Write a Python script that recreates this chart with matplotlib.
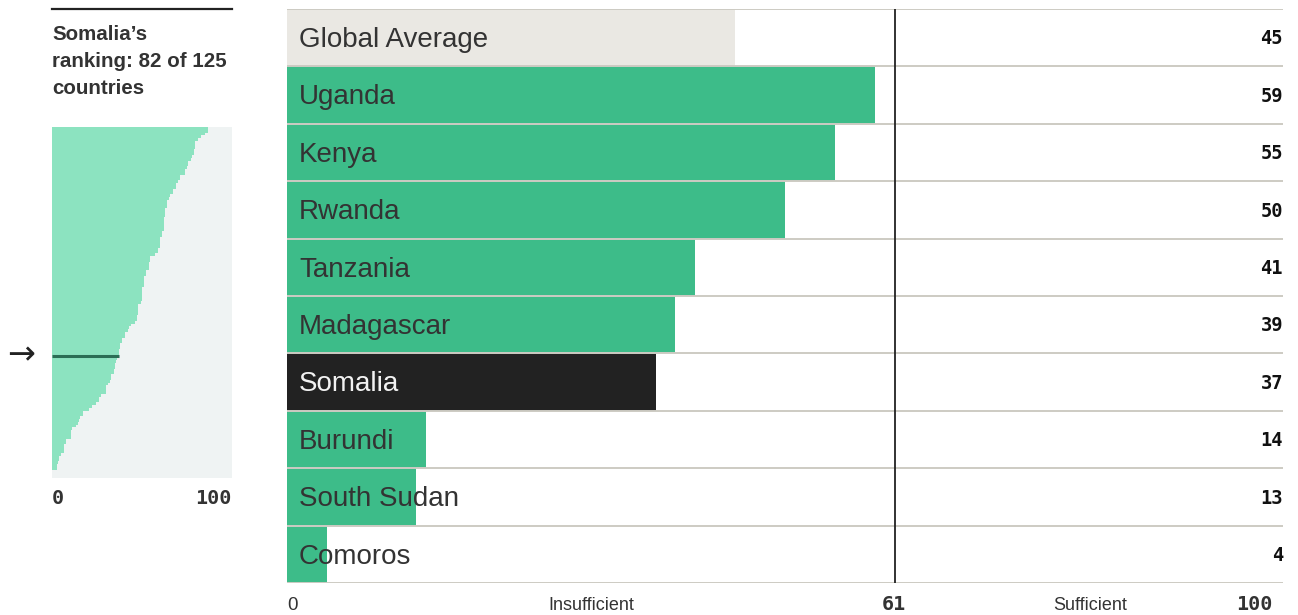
import matplotlib
matplotlib.use("Agg")
from matplotlib import pyplot as plt

# main bar chart
countries = ['Global Average', 'Uganda', 'Kenya', 'Rwanda', 'Tanzania',
             'Madagascar', 'Somalia', 'Burundi', 'South Sudan', 'Comoros']
scores = [45, 59, 55, 50, 41, 39, 37, 14, 13, 4]
threshold = 61

# ranking of all 125 countries (sorted)
ranking = [86.7, 86.7, 85, 83, 81, 79.4, 79.4, 79.4, 79, 79, 78, 77, 75.6, 75.6,
           75, 74, 74, 71, 71, 70, 69, 69, 67, 67, 65.6, 65, 64, 64, 64,
           63, 63, 63, 62, 62, 62, 62, 62, 61, 61, 60, 60, 60, 60, 59, 59,
           57, 54.4, 54.4, 54, 54, 54, 52, 52, 51, 51, 51, 51, 50, 50, 50, 50, 50,
           49.4, 48, 48, 48, 48, 47, 47, 46, 44, 43, 42, 40.6, 40.6, 39, 39,
           38, 38, 37, 37, 37,
           36, 35.6, 35, 35, 34.4, 34.4, 32.8, 32.8, 32.2, 31, 30, 30, 30, 27,
           26, 26, 24.4, 22, 20.6, 17, 17, 15.6, 15, 14.4, 13.3, 11, 10.6, 10.6,
           10.6, 8, 8, 6.7, 6.7, 6.7, 5, 4, 4, 3.3, 2.8, 2.8, 0, 0, 0]
somalia_rank = 82

GREEN = '#3dbc89'
MINT = '#8ce3c0'
TEXT = '#333333'
SEP = '#cdcbc3'

fig = plt.figure(figsize=(12.98, 6.15), dpi=100)
W, H = 1298, 615


def box(l, t, r, b):
    return [l / W, 1 - b / H, (r - l) / W, (b - t) / H]


# ---- main chart
ax = fig.add_axes(box(287, 9, 1283, 583))
colors = [GREEN] * len(countries)
colors[0] = '#eae8e3'
colors[countries.index('Somalia')] = '#222222'
ypos = list(range(len(countries)))
ax.barh(ypos, scores, height=1, color=colors, linewidth=0)
ax.set_xlim(0, 100)
ax.set_ylim(len(countries) - 0.5, -0.5)
for i in range(len(countries) + 1):
    ax.axhline(i - 0.5, color=SEP, lw=1.4, zorder=3)
ax.axvline(threshold, color='#222222', lw=1.3, zorder=4)
for i, (c, s) in enumerate(zip(countries, scores)):
    ax.text(1.2, i + 0.04, c, va='center', ha='left', fontsize=20,
            family='Liberation Sans',
            color='#f2f2f2' if c == 'Somalia' else TEXT, zorder=5)
    ax.text(100, i + 0.02, str(s), va='center', ha='right', fontsize=13.5,
            family='DejaVu Sans Mono', fontweight='bold', color='#111111',
            zorder=5)
for s in ax.spines.values():
    s.set_visible(False)
ax.set_xticks([])
ax.set_yticks([])

# bottom axis labels
fig.text(287 / W, 1 - 605 / H, '0', ha='left', va='center', fontsize=13.5,
         family='Liberation Sans', color=TEXT)
fig.text(591 / W, 1 - 605 / H, 'Insufficient', ha='center', va='center',
         fontsize=13, family='Liberation Sans', color=TEXT)
fig.text(894 / W, 1 - 604 / H, str(threshold), ha='center', va='center',
         fontsize=14.5, family='DejaVu Sans Mono', fontweight='bold', color=TEXT)
fig.text(1090 / W, 1 - 605 / H, 'Sufficient', ha='center', va='center',
         fontsize=13, family='Liberation Sans', color=TEXT)
fig.text(1273 / W, 1 - 604 / H, '100', ha='right', va='center',
         fontsize=14.5, family='DejaVu Sans Mono', fontweight='bold', color=TEXT)

# ---- left ranking panel
fig.add_artist(plt.Line2D([52 / W, 232 / W], [1 - 9 / H, 1 - 9 / H],
                          color='#222222', lw=1.6))
fig.text(52 / W, 1 - 25 / H, 'Somalia\u2019s\nranking: 82 of 125\ncountries',
         ha='left', va='top', fontsize=14.8, fontweight='bold',
         family='Liberation Sans', color=TEXT, linespacing=1.52)

mx = fig.add_axes(box(52, 127, 232, 478))
mx.set_facecolor('#eff3f3')
mx.barh(range(len(ranking)), ranking, height=1.02, color=MINT, linewidth=0)
mx.hlines(somalia_rank - 1, 0, ranking[somalia_rank - 1], color='#2b6e55', lw=2.2)
mx.set_xlim(0, 100)
mx.set_ylim(len(ranking) - 0.5, -0.5)
for s in mx.spines.values():
    s.set_visible(False)
mx.set_xticks([])
mx.set_yticks([])

fig.text(52 / W, 1 - 498 / H, '0', ha='left', va='center', fontsize=14.5,
         family='DejaVu Sans Mono', fontweight='bold', color=TEXT)
fig.text(232 / W, 1 - 498 / H, '100', ha='right', va='center', fontsize=14.5,
         family='DejaVu Sans Mono', fontweight='bold', color=TEXT)
fig.text(21 / W, 1 - 355 / H, '\u2192', ha='center', va='center', fontsize=24,
         family='DejaVu Sans', color='#222222')

plt.savefig('out.png', dpi=100)
plt.close()
